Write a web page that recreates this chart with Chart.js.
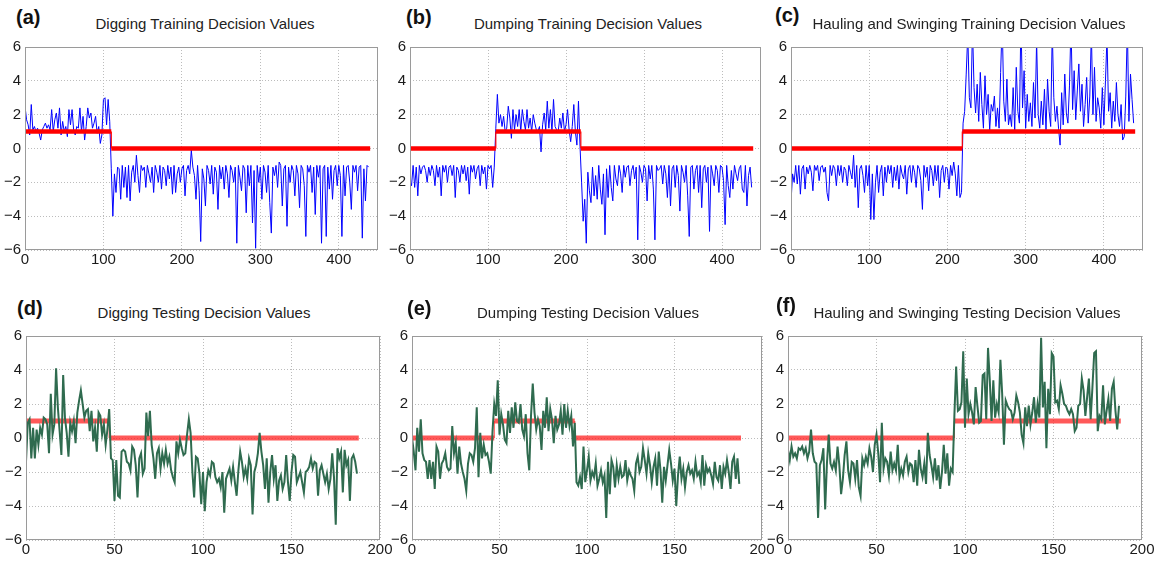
<!DOCTYPE html>
<html>
<head>
<meta charset="utf-8">
<script src="https://cdn.jsdelivr.net/npm/chart.js@4.4.1/dist/chart.umd.min.js"></script>
<style>
  body { margin: 0; background: #fff; font-family: "Liberation Sans", Arial, sans-serif; }
  #page { position: relative; width: 1159px; height: 563px; overflow: hidden; }
  .tag { position: absolute; font-weight: bold; font-size: 20px; line-height: 20px; color: #111; }
  .title { position: absolute; width: 440px; font-size: 15px; line-height: 15px; color: #222; text-align: center; white-space: nowrap; }
  canvas { display: block; }
</style>
</head>
<body>
<div id="page"></div>
<script>
// === tick labels ===
const yTicks = [-6, -4, -2, 0, 2, 4, 6];
const trainXTicks = [0, 100, 200, 300, 400];
const testXTicks = [0, 50, 100, 150, 200];

// training decision values, every 2nd sample (x = 0, 2, 4 ... 438)
const trainStep = 2;
const digTrain = [
  2.5, 1.7, 1.4, 0.8, 2.6, 1.1, 1.3, 1.0, 1.2, 0.9,
  0.5, 1.1, 1.3, 1.5, 1.2, 1.4, 1.1, 2.3, 1.0, 1.7,
  2.1, 1.2, 2.4, 0.8, 1.6, 1.0, 1.3, 0.7, 2.3, 1.4,
  2.3, 1.1, 0.8, 1.3, 1.2, 2.4, 1.0, 1.9, 0.5, 1.3,
  2.4, 1.8, 2.1, 1.2, 1.5, 1.9, 0.9, 1.3, 0.3, 0.8,
  2.9, 3.0, 1.4, 2.9, 1.6, -1.2, -4.0, -1.5, -2.6, -1.1,
  -1.2, -3.0, -1.0, -2.3, -1.1, -2.9, -1.0, -3.1, -1.4, -1.0,
  -2.0, -0.4, -1.6, -2.6, -1.0, -1.3, -1.1, -2.3, -1.0, -1.5,
  -2.0, -1.1, -2.6, -1.0, -1.4, -2.0, -1.0, -2.4, -1.1, -1.3,
  -2.2, -1.0, -1.8, -1.1, -2.7, -1.0, -2.6, -1.5, -1.1, -2.0,
  -1.2, -1.0, -2.8, -1.3, -1.0, -1.5, -0.1, -1.1, -1.6, -3.0,
  -1.0, -2.5, -5.5, -1.2, -1.8, -3.4, -1.0, -1.3, -2.1, -1.0,
  -2.7, -1.1, -1.4, -3.6, -1.0, -1.8, -1.1, -2.4, -1.0, -1.5,
  -2.9, -1.0, -1.3, -2.0, -1.1, -5.6, -1.0, -1.7, -2.5, -1.0,
  -1.2, -3.8, -1.0, -2.2, -1.0, -4.4, -1.3, -5.9, -1.0, -2.0,
  -1.1, -3.0, -1.0, -1.4, -2.6, -1.0, -3.2, -5.0, -1.1, -1.6,
  -1.0, -2.3, -0.8, -1.0, -3.4, -1.2, -1.0, -4.6, -1.1, -2.0,
  -1.0, -1.3, -2.8, -1.0, -1.5, -3.5, -1.0, -1.2, -2.2, -5.2,
  -1.0, -1.4, -1.0, -2.6, -1.1, -3.9, -1.0, -1.7, -1.0, -5.6,
  -1.2, -1.0, -5.2, -1.1, -2.4, -1.0, -3.0, -1.3, -1.0, -2.2,
  -1.0, -1.6, -5.2, -1.0, -2.8, -1.1, -1.0, -2.0, -3.6, -1.0,
  -1.4, -1.0, -2.5, -1.1, -1.0, -5.3, -1.2, -3.1, -1.0, -1.1
];
const dumpTrain = [
  -1.9, -2.2, -1.0, -2.3, -1.1, -2.8, -1.0, -1.5, -1.1, -1.0,
  -1.3, -2.0, -1.1, -1.6, -1.0, -1.3, -2.2, -1.0, -1.7, -1.1,
  -2.8, -1.0, -1.4, -1.0, -2.0, -1.1, -1.0, -1.6, -1.0, -2.9,
  -1.1, -1.3, -2.0, -1.0, -1.5, -1.0, -1.9, -1.1, -2.7, -1.0,
  -1.4, -1.0, -1.8, -1.2, -1.0, -2.2, -1.0, -1.5, -1.1, -2.4,
  -1.0, -1.2, -1.0, -2.3, -1.1, 1.2, 3.2, 1.5, 2.0, 1.3,
  1.9, 1.0, 1.2, 2.5, 1.8, 0.6, 2.3, 1.1, 2.0, 1.3,
  2.3, 1.0, 2.3, 1.6, 1.1, 2.3, 1.2, 1.8, 1.0, 2.0,
  1.5, 1.1, 1.0, 1.3, -0.2, 1.4, 2.1, 1.1, 2.8, 1.2,
  2.3, 1.0, 2.9, 1.3, 1.1, 1.0, 1.8, 1.2, 2.1, 1.0,
  1.4, 2.3, 1.1, 0.4, 1.3, 2.6, 1.0, 0.2, 2.8, 0.1,
  -2.0, -4.3, -3.0, -5.6, -1.4, -2.5, -3.2, -1.1, -2.8, -1.6,
  -3.0, -1.0, -2.4, -3.3, -1.5, -5.1, -1.2, -2.9, -1.0, -2.3,
  -3.1, -1.0, -1.8, -2.2, -1.0, -1.5, -2.6, -1.0, -1.7, -1.1,
  -1.0, -2.2, -1.3, -1.0, -1.8, -1.1, -5.4, -1.0, -1.4, -2.0,
  -1.0, -1.2, -3.1, -1.0, -1.8, -1.0, -2.4, -5.4, -1.0, -1.3,
  -1.2, -1.0, -2.1, -1.0, -1.5, -2.9, -1.0, -3.4, -1.2, -1.0,
  -2.3, -1.0, -1.6, -3.7, -1.0, -1.4, -2.0, -1.0, -2.8, -5.2,
  -1.1, -1.0, -2.4, -1.3, -1.0, -2.6, -1.0, -3.5, -1.2, -1.0,
  -2.0, -1.1, -4.9, -1.0, -1.5, -2.2, -1.0, -1.3, -2.6, -1.0,
  -1.1, -1.9, -4.5, -1.0, -2.2, -2.9, -1.3, -2.4, -1.0, -1.5,
  -1.9, -1.2, -1.0, -2.4, -2.6, -1.0, -3.4, -1.6, -1.1, -2.3
];
const haulTrain = [
  -3.2, -1.5, -2.0, -1.0, -2.1, -1.0, -2.7, -1.2, -1.0, -2.4,
  -1.1, -1.5, -1.0, -1.4, -2.5, -1.0, -1.3, -1.0, -1.9, -1.1,
  -1.0, -1.4, -1.1, -2.6, -3.1, -1.0, -1.6, -1.0, -1.2, -2.2,
  -1.0, -1.6, -1.0, -2.0, -1.1, -1.3, -2.2, -1.0, -1.4, -1.8,
  -0.4, -2.3, -1.0, -3.5, -1.2, -1.0, -1.6, -2.6, -1.0, -2.2,
  -1.0, -4.2, -1.5, -4.2, -2.0, -1.0, -2.6, -1.4, -1.0, -2.8,
  -1.1, -2.0, -1.0, -1.5, -1.0, -2.3, -1.1, -1.9, -1.0, -2.4,
  -1.0, -1.5, -1.8, -1.0, -2.7, -1.2, -1.0, -2.0, -1.0, -1.4,
  -2.3, -1.0, -1.2, -1.9, -3.6, -1.0, -1.7, -1.1, -2.5, -1.0,
  -1.3, -2.2, -1.0, -1.9, -1.0, -2.9, -1.3, -1.0, -2.0, -1.1,
  -1.2, -2.4, -1.0, -1.6, -0.8, -1.5, -2.8, -1.0, -2.9, -2.6,
  1.5, 2.2, 4.4, 6.8, 3.0, 2.4, 7.2, 3.6, 2.1, 3.8,
  1.6, 4.5, 2.6, 1.2, 4.3, 2.0, 3.2, 1.1, 2.6, 2.2,
  3.1, 1.3, 2.4, 1.2, 4.5, 7.5, 2.8, 1.6, 4.1, 1.4,
  2.0, 1.3, 3.6, 1.1, 4.8, 2.2, 1.5, 7.8, 2.4, 4.6,
  1.2, 3.2, 1.6, 2.7, 1.3, 3.9, 1.8, 6.4, 2.0, 1.2,
  2.8, 1.4, 3.5, 1.1, 4.1, 2.2, 1.3, 7.0, 3.0, 1.6,
  2.5, 1.2, 0.2, 3.3, 1.4, 4.4, 2.1, 1.5, 3.7, 7.4,
  2.3, 4.6, 1.7, 3.4, 5.0, 2.2, 3.8, 1.3, 2.6, 4.2,
  1.5, 3.1, 6.9, 2.0, 4.8, 1.6, 3.0, 2.4, 1.2, 3.6,
  1.4, 4.0, 6.6, 2.2, 3.3, 1.2, 2.8, 1.6, 3.9, 2.0,
  1.3, 2.6, 0.5, 0.7, 3.1, 7.3, 1.6, 4.4, 2.9, 1.5
];

// testing decision values, one per sample (x = 0 ... 187)
const testStep = 1;
const digTest = [
  -1.4, 0.9, 1.1, -1.2, 0.6, -1.2, 0.5, -0.4, 0.6, 0.2,
  1.2, 1.1, 0.8, -0.9, 2.6, 0.2, 0.8, 4.1, 1.8, 0.4,
  -1.0, 3.7, 1.2, 0.3, -1.1, 0.9, 0.4, 1.0, -0.3, 1.5,
  2.2, 2.8, 2.0, 1.2, 1.6, 1.7, 0.4, 1.6, -0.2, 0.6,
  -0.8, 1.5, 1.3, 0.2, 0.8, -0.4, 0.5, 1.7, -1.2, -1.3,
  -3.7, -1.3, -3.4, -3.5, -0.8, -0.7, -0.8, -1.4, -1.5, -1.9,
  -0.5, -0.7, -1.6, -3.5, -1.2, -0.9, -2.1, -1.8, 1.5, 0.1,
  1.6, -0.4, -1.2, -2.4, -0.9, -0.6, -1.8, -0.9, -1.5, -0.7,
  -1.5, -1.1, -1.9, -2.3, -2.6, -0.2, -0.9, -0.1, -0.6, -1.0,
  -0.9, 0.2, 1.1, 0.3, -2.0, -3.5, -1.1, -1.2, -2.1, -3.9,
  -2.0, -4.3, -2.6, -1.9, -2.2, -1.4, -1.5, -2.3, -2.6, -2.4,
  -2.9, -2.0, -4.4, -2.4, -2.1, -1.8, -2.5, -1.7, -2.6, -3.4,
  -1.9, -0.8, -1.4, -2.3, -1.8, -2.4, -1.2, -1.6, -4.5, -2.0,
  -1.6, -0.9, 0.3, -0.8, -1.6, -3.0, -1.2, -3.8, -2.0, -1.0,
  -2.4, -1.6, -3.7, -2.5, -2.2, -3.0, -2.6, -1.0, -2.6, -3.7,
  -2.0, -1.0, -1.1, -2.6, -2.3, -2.0, -2.6, -3.2, -2.0, -1.9,
  -1.7, -1.2, -1.8, -1.4, -1.5, -3.4, -1.9, -1.6, -2.1, -2.6,
  -2.1, -3.0, -2.4, -0.9, -2.3, -5.1, -0.6, -1.2, -0.8, -3.2,
  -0.7, -1.6, -1.3, -3.7, -1.2, -1.0, -1.4, -2.1
];
const dumpTest = [
  0.0, -0.8, -1.9, 0.6, -0.8, 1.1, -0.9, -1.3, -1.4, -2.4,
  -1.3, -2.4, -1.4, -3.0, -0.5, -0.8, -2.4, -1.5, -1.3, -0.9,
  -1.7, -1.9, -1.8, 0.7, -0.9, -0.3, -2.1, -0.5, -1.5, -2.0,
  -2.4, -3.1, -1.5, -0.9, -1.0, -1.4, -0.6, 1.8, -2.3, 0.3,
  -1.2, -0.4, -1.0, -0.9, -1.4, -2.1, 0.4, 2.0, 1.3, 3.4,
  0.2, 1.4, 0.8, -0.1, -0.3, 1.6, 0.3, 1.8, 0.6, 2.1,
  1.0, 0.9, 2.0, 0.5, 0.1, 1.4, -0.9, -1.9, 1.3, 3.2,
  1.5, 0.5, 1.1, 0.7, -0.7, 1.6, 0.6, 2.4, 0.4, 1.7,
  1.1, -0.3, 1.3, 0.5, 0.8, 1.6, 0.2, 2.0, 0.6, 1.6,
  0.7, 1.3, -0.5, 0.9, -2.6, -2.8, -2.3, -3.0, -0.5, -2.6,
  -1.9, -1.1, -2.5, -2.0, -2.3, -1.5, -2.8, -2.4, -1.9, -2.6,
  -2.2, -4.7, -1.4, -3.3, -1.3, -1.7, -2.9, -1.6, -2.4, -1.7,
  -2.3, -2.2, -1.3, -2.5, -1.9, -2.2, -2.4, -3.1, -1.5, -1.1,
  -2.0, -1.7, -0.6, -1.3, -2.1, -0.9, -1.6, -2.6, -1.7, -1.2,
  -2.8, -0.8, -1.9, -3.8, -1.7, -2.5, -1.6, -0.7, -1.5, -2.5,
  -1.8, -4.0, -2.2, -1.1, -2.4, -1.8, -2.9, -2.0, -1.6, -2.1,
  -1.9, -2.4, -1.4, -2.2, -2.0, -2.6, -1.0, -2.8, -1.6, -2.0,
  -1.8, -2.2, -2.7, -1.4, -2.3, -2.5, -1.6, -3.0, -1.7, -2.1,
  -1.3, -2.0, -3.0, -1.4, -1.1, -2.4, -1.2, -2.7
];
const haulTest = [
  -0.7, -1.3, -0.5, -1.1, -0.9, -1.2, -0.6, -0.7, -0.5, -0.9,
  -0.6, -1.2, -0.8, 0.5, -0.9, -1.4, -1.5, -4.7, -1.6, -1.3,
  -0.6, -4.2, -1.5, 0.2, -1.5, -1.8, -1.4, -1.9, -0.5, -1.6,
  -3.3, -2.4, -1.0, -0.2, -1.9, -2.6, -1.4, -1.5, -2.4, -1.3,
  -2.9, -3.4, -1.2, -1.6, -1.1, -1.5, -0.6, -1.1, -2.0, -0.4,
  0.2, -0.9, -2.6, 0.9, -1.8, -1.2, -1.4, -2.2, -0.8, -1.9,
  -1.5, -1.9, -0.4, -2.3, -1.8, -2.2, -1.4, -1.1, -2.0, -1.5,
  -1.6, -2.6, -1.3, -2.8, -0.7, -1.8, -2.3, -1.5, -2.7, 0.3,
  -1.0, -1.6, -2.3, -1.2, -2.5, -1.6, -3.0, -2.0, -0.4, -2.1,
  -0.9, -2.8, -1.8, -2.0, 1.3, 4.2, 1.6, 1.7, 2.1, 5.1,
  0.6, 3.5, 1.4, 2.0, 1.5, 0.8, 3.0, 1.9, 0.9, 1.0,
  3.7, 3.8, 1.1, 5.3, 3.4, 1.0, 3.4, 1.2, 2.0, 1.5,
  4.6, 2.6, -0.4, 2.2, 1.9, 1.7, 1.6, 1.1, 1.5, 2.5,
  2.1, 1.5, 0.2, -0.3, 1.8, 0.7, 1.9, 0.8, 1.5, 2.4,
  0.9, 2.0, 1.2, 5.9, 1.8, 3.3, -0.6, 2.9, 1.4, 5.0,
  4.8, 2.1, 2.2, 1.7, 3.1, 2.6, 2.0, 1.9, 1.6, 1.4,
  1.7, 1.4, 0.4, 0.6, 1.9, 2.0, 3.5, 2.8, 1.3, 2.4,
  3.5, 1.1, 3.0, 5.0, 5.1, 0.4, 1.3, 1.1, 3.1, 0.8,
  1.6, 2.3, 1.0, 2.9, 3.3, 1.6, 0.5, 1.9
];

// true class labels: [from, to, value]
const digTrainLabel = [[0, 110, 1], [110, 440, 0]];
const dumpTrainLabel = [[0, 110, 0], [110, 219, 1], [219, 440, 0]];
const haulTrainLabel = [[0, 219, 0], [219, 440, 1]];
const digTestLabel = [[0, 47, 1], [47, 188, 0]];
const dumpTestLabel = [[0, 47, 0], [47, 93, 1], [93, 188, 0]];
const haulTestLabel = [[0, 94, 0], [94, 188, 1]];

// === layout ===
const panels = [
  { tag: '(a)', title: 'Digging Training Decision Values', values: digTrain, step: trainStep, labels: digTrainLabel,
    train: true, xMax: 450, xTicks: trainXTicks, box: [25, 42, 378, 250], tagAt: [16, 7], titleAt: [205, 16] },
  { tag: '(b)', title: 'Dumping Training Decision Values', values: dumpTrain, step: trainStep, labels: dumpTrainLabel,
    train: true, xMax: 450, xTicks: trainXTicks, box: [410, 42, 761, 250], tagAt: [406, 7], titleAt: [588, 16] },
  { tag: '(c)', title: 'Hauling and Swinging Training Decision Values', values: haulTrain, step: trainStep, labels: haulTrainLabel,
    train: true, xMax: 450, xTicks: trainXTicks, box: [791, 42, 1143, 250], tagAt: [775, 5], titleAt: [969, 16] },
  { tag: '(d)', title: 'Digging Testing Decision Values', values: digTest, step: testStep, labels: digTestLabel,
    train: false, xMax: 200, xTicks: testXTicks, box: [26, 331, 380, 540], tagAt: [17, 298], titleAt: [204, 305] },
  { tag: '(e)', title: 'Dumping Testing Decision Values', values: dumpTest, step: testStep, labels: dumpTestLabel,
    train: false, xMax: 200, xTicks: testXTicks, box: [412, 331, 762, 540], tagAt: [407, 298], titleAt: [588, 305] },
  { tag: '(f)', title: 'Hauling and Swinging Testing Decision Values', values: haulTest, step: testStep, labels: haulTestLabel,
    train: false, xMax: 200, xTicks: testXTicks, box: [788, 331, 1142, 540], tagAt: [776, 295], titleAt: [967, 305] }
];

const L = 28, R = 14, T = 8, B = 22;
const tickFont = { family: '"Liberation Sans", Arial, sans-serif', size: 15 };
const fmt = v => (v < 0 ? '\u2212' + Math.abs(v) : String(v));

// Matlab-like full box round the plot area
const boxPlugin = {
  id: 'box',
  afterDraw(chart) {
    const a = chart.chartArea, ctx = chart.ctx;
    ctx.save();
    ctx.strokeStyle = '#9a9a9a';
    ctx.lineWidth = 1;
    ctx.strokeRect(Math.round(a.left) + 0.5, Math.round(a.top) + 0.5,
      Math.round(a.right - a.left) - 1, Math.round(a.bottom - a.top) - 1);
    ctx.restore();
  }
};

const page = document.getElementById('page');

panels.forEach(p => {
  const [x0, y0, x1, y1] = p.box;
  const w = x1 - x0 + L + R, h = y1 - y0 + T + B;

  const wrap = document.createElement('div');
  wrap.style.cssText = `position:absolute;left:${x0 - L}px;top:${y0 - T}px;width:${w}px;height:${h}px`;
  const cv = document.createElement('canvas');
  cv.width = w; cv.height = h;
  wrap.appendChild(cv);
  page.appendChild(wrap);

  const tag = document.createElement('div');
  tag.className = 'tag';
  tag.textContent = p.tag;
  tag.style.left = p.tagAt[0] + 'px';
  tag.style.top = p.tagAt[1] + 'px';
  page.appendChild(tag);

  const title = document.createElement('div');
  title.className = 'title';
  title.textContent = p.title;
  title.style.left = (p.titleAt[0] - 220) + 'px';
  title.style.top = p.titleAt[1] + 'px';
  page.appendChild(title);

  const trace = p.values.map((v, i) => ({ x: i * p.step, y: v }));
  const target = [];
  p.labels.forEach(([a, b, v]) => { target.push({ x: a, y: v }, { x: b, y: v }); });

  const redWidth = p.train ? 4.5 : 5;

  new Chart(cv, {
    type: 'line',
    data: {
      datasets: [
        {
          data: target,
          borderColor: p.train ? '#ff0000' : 'rgba(255, 25, 25, 0.72)',
          borderWidth: redWidth,
          order: p.train ? 0 : 1,
          segment: { borderWidth: c => (c.p0.parsed.x === c.p1.parsed.x ? 1.2 : redWidth) }
        },
        {
          data: trace,
          borderColor: p.train ? '#0000ff' : '#2f6b4f',
          borderWidth: p.train ? 1 : 2,
          order: p.train ? 1 : 0
        }
      ]
    },
    options: {
      responsive: false,
      animation: false,
      events: [],
      layout: { padding: { left: 0, right: R, top: T, bottom: 0 } },
      elements: { point: { radius: 0 }, line: { tension: 0 } },
      plugins: { legend: { display: false }, tooltip: { enabled: false } },
      scales: {
        x: {
          type: 'linear', min: 0, max: p.xMax,
          afterBuildTicks: s => { s.ticks = p.xTicks.map(v => ({ value: v })); },
          afterFit: s => { s.height = B; },
          ticks: { font: tickFont, color: '#1a1a1a', padding: 1, maxRotation: 0, autoSkip: false, callback: fmt },
          grid: { color: '#bcbcbc', drawTicks: false },
          border: { display: false, dash: [1, 2] }
        },
        y: {
          min: -6, max: 6,
          afterBuildTicks: s => { s.ticks = yTicks.map(v => ({ value: v })); },
          afterFit: s => { s.width = L; },
          ticks: { font: tickFont, color: '#1a1a1a', padding: 4, autoSkip: false, callback: fmt },
          grid: { color: '#bcbcbc', drawTicks: false },
          border: { display: false, dash: [1, 2] }
        }
      }
    },
    plugins: [boxPlugin]
  });
});
</script>
</body>
</html>
